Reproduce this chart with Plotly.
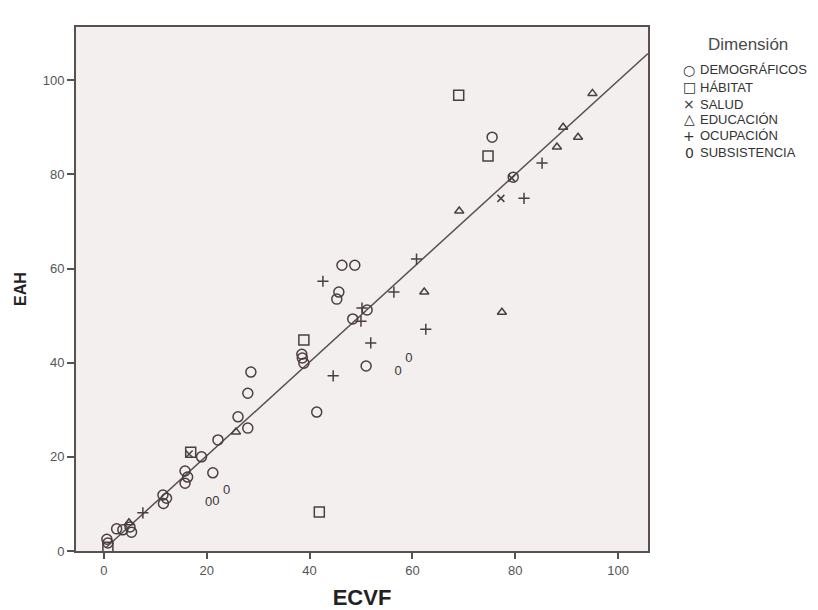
import plotly.graph_objects as go

# ---- data ----
demo_x = [0.6, 0.8, 2.5, 3.7, 5.1, 5.4, 11.5, 11.6, 12.2, 15.8, 16.3, 15.8, 19.0, 21.2, 22.2, 26.1,
          28.0, 28.0, 28.6, 38.5, 38.6, 38.9, 41.4, 45.3, 45.7, 46.3, 48.8, 48.4, 51.2, 51.0, 75.5, 79.6]
demo_y = [2.5, 1.7, 4.7, 4.5, 5.1, 4.0, 11.9, 10.1, 11.2, 17.0, 15.7, 14.4, 20.0, 16.6, 23.6, 28.5,
          26.1, 33.5, 38.0, 41.8, 41.0, 39.9, 29.5, 53.5, 55.0, 60.7, 60.7, 49.3, 51.2, 39.3, 87.9, 79.4]

hab_x = [0.8, 16.9, 38.9, 41.9, 69.0, 74.7]
hab_y = [0.8, 21.0, 44.8, 8.3, 96.8, 83.9]

salud_x = [77.2, 79.3, 16.6]
salud_y = [74.9, 79.2, 20.6]

edu_x = [95.0, 89.3, 92.2, 88.1, 69.1, 62.3, 77.4, 25.7, 4.9]
edu_y = [97.2, 90.0, 87.9, 85.8, 72.2, 55.0, 50.7, 25.3, 6.0]

ocu_x = [42.6, 60.8, 56.4, 50.2, 50.0, 62.6, 51.9, 44.6, 85.2, 81.7, 7.6]
ocu_y = [57.3, 62.0, 55.0, 51.6, 48.8, 47.1, 44.2, 37.2, 82.4, 74.9, 8.1]

subs_x = [59.3, 57.2, 23.9, 20.4, 21.8]
subs_y = [40.8, 38.0, 12.7, 10.2, 10.4]

fit_intercept = 0.3
fit_slope = 0.996
fit_x = [0.5, 105.8]

x_ticks = [0, 20, 40, 60, 80, 100]
y_ticks = [0, 20, 40, 60, 80, 100]

legend_title = "Dimensión"
legend_symbols = ["○", "□", "×", "△", "+", "0"]
legend_labels = ["DEMOGRÁFICOS", "HÁBITAT", "SALUD", "EDUCACIÓN", "OCUPACIÓN", "SUBSISTENCIA"]

# ---- styling ----
MC = "#4a3f3f"
FONT = "Liberation Sans, Arial, sans-serif"

fig = go.Figure()

fit_y = [fit_intercept + fit_slope * v for v in fit_x]
fig.add_trace(go.Scatter(x=fit_x, y=fit_y, mode="lines",
                         line=dict(color="#5a4f4f", width=1.5), showlegend=False, hoverinfo="skip"))

def mk(x, y, symbol, size, lw=1.5):
    fig.add_trace(go.Scatter(x=x, y=y, mode="markers", showlegend=False,
                             marker=dict(symbol=symbol, size=size, color=MC,
                                         line=dict(color=MC, width=lw))))

mk(demo_x, demo_y, "circle-open", 10)
mk(hab_x, hab_y, "square-open", 10)
mk(salud_x, salud_y, "x-thin-open", 7)
mk(edu_x, edu_y, "triangle-up-open", 8)
mk(ocu_x, ocu_y, "cross-thin-open", 8)
fig.add_trace(go.Scatter(x=subs_x, y=subs_y, mode="text", text=["0"] * len(subs_x),
                         textfont=dict(family=FONT, size=13, color="#3d3535"), showlegend=False))

# legend as SPSS-like text block
ann = [dict(text=legend_title, x=1.175, y=0.966, xref="paper", yref="paper",
            xanchor="center", yanchor="middle", showarrow=False,
            font=dict(family=FONT, size=17, color="#4a4a4a"))]
row_y = [0.918, 0.885, 0.853, 0.824, 0.792, 0.760]
for s, lab, yy in zip(legend_symbols, legend_labels, row_y):
    ann.append(dict(text=s, x=1.0717, y=yy, xref="paper", yref="paper", xanchor="center",
                    yanchor="middle", showarrow=False, font=dict(family="DejaVu Sans", size=14, color="#333")))
    ann.append(dict(text=lab, x=1.0874, y=yy, xref="paper", yref="paper", xanchor="left",
                    yanchor="middle", showarrow=False, font=dict(family=FONT, size=13, color="#333")))

fig.update_layout(
    width=810, height=602, autosize=False,
    margin=dict(l=68, r=170, t=19, b=59),
    paper_bgcolor="white", plot_bgcolor="#f2efee",
    font=dict(family=FONT, color="#4a4a4a"),
    annotations=ann,
    showlegend=False,
)
fig.update_xaxes(range=[-5.4, 105.8], tickvals=x_ticks, ticks="outside", ticklen=6, tickwidth=2,
                 tickcolor="#5a5050", showline=True, linecolor="#5a5050", linewidth=2, mirror=True,
                 showgrid=False, zeroline=False, tickfont=dict(size=13, color="#555"), automargin=False,
                 title=dict(text="<b>ECVF</b>", font=dict(size=22, color="#222"), standoff=14))
fig.update_yaxes(range=[0, 111.3], tickvals=y_ticks, ticks="outside", ticklen=7, tickwidth=2,
                 tickcolor="#5a5050", showline=True, linecolor="#5a5050", linewidth=2, mirror=True,
                 showgrid=False, zeroline=False, tickfont=dict(size=13, color="#555"), automargin=False,
                 title=dict(text="<b>EAH</b>", font=dict(size=16, color="#222"), standoff=12))

fig.write_html("out.html")
